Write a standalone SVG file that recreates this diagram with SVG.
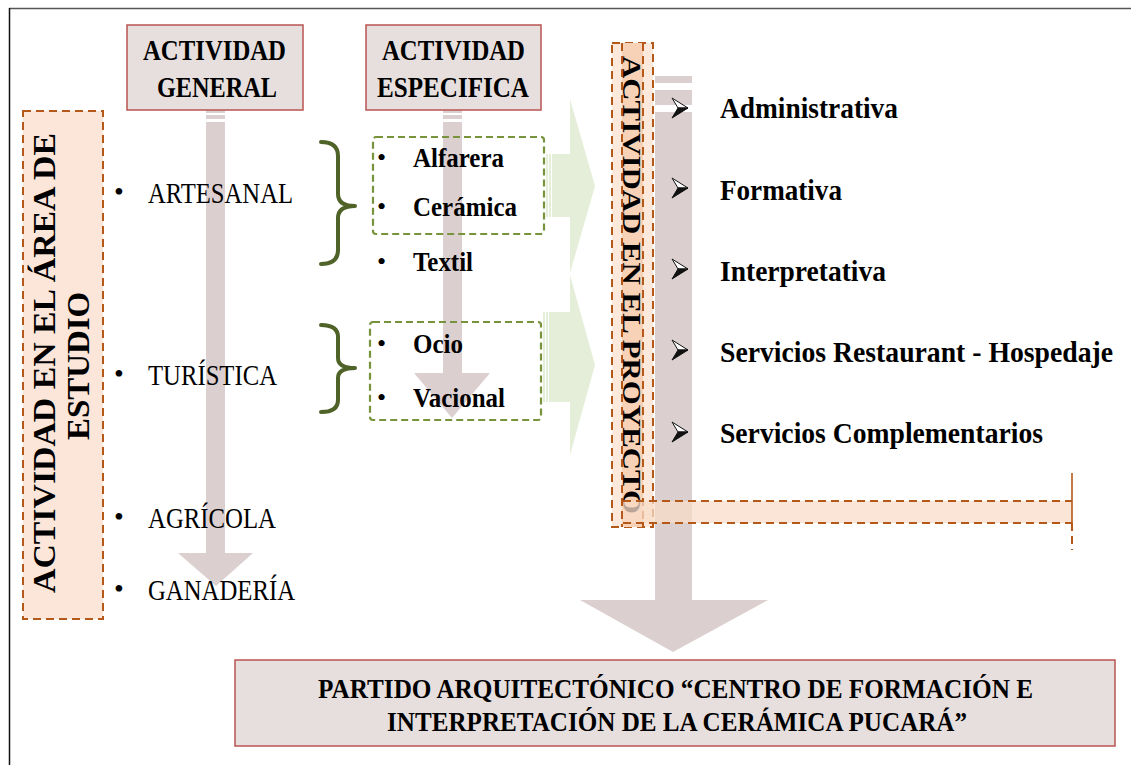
<svg xmlns="http://www.w3.org/2000/svg" width="1131" height="765" viewBox="0 0 1131 765">
<defs>
<style>
.hdr{fill:#e7dfde;stroke:#b85450;stroke-width:1.5}
.tb{font-family:"Liberation Serif","Times New Roman",serif;font-weight:bold;fill:#000}
.tr{font-family:"Liberation Serif","Times New Roman",serif;fill:#000}
.arr{fill:#dccfcf}
.garr{fill:#e5eed9}
.gbox{fill:none;stroke:#77933c;stroke-width:2.2;stroke-dasharray:7 4}
.obox{stroke:#b5591a;stroke-width:2;stroke-dasharray:8 5}
.brace{fill:none;stroke:#4f6228;stroke-width:4;stroke-linecap:round;stroke-linejoin:round}
</style>
<g id="chev">
<path d="M0,-10 L16,0 L6,0 Z" fill="#fff" stroke="#111" stroke-width="1"/>
<path d="M0,10 L16,0 L6,0 Z" fill="#111" stroke="#111" stroke-width="1"/>
</g>
</defs>
<rect width="1131" height="765" fill="#fff"/>
<line x1="9" y1="8.5" x2="1131" y2="8.5" stroke="#555" stroke-width="1.6"/>
<line x1="9.5" y1="8" x2="9.5" y2="765" stroke="#111" stroke-width="1.5"/>

<g id="connectors">
<rect class="arr" x="206" y="107" width="19" height="6"/>
<rect class="arr" x="206" y="115" width="19" height="4"/>
<polygon class="arr" points="206,122 225,122 225,553 253,553 216,586 178,553 206,553"/>
<rect class="arr" x="443" y="107" width="19" height="6"/>
<rect class="arr" x="443" y="115" width="19" height="4"/>
<polygon class="arr" points="443,122 462,122 462,373 490,373 452,418 414,373 443,373"/>
<rect class="arr" x="655" y="76" width="37" height="7"/>
<rect class="arr" x="655" y="90" width="37" height="15"/>
<polygon class="arr" points="655,112 692,112 692,600 768,600 673,652 580,600 655,600"/>
<rect class="garr" x="546" y="154" width="2" height="63"/>
<rect class="garr" x="549" y="154" width="2" height="63"/>
<polygon class="garr" points="552,154 570,154 570,99 595,186 570,273 570,217 552,217"/>
<rect class="garr" x="543" y="312" width="2" height="90"/>
<rect class="garr" x="546" y="312" width="2" height="90"/>
<polygon class="garr" points="549,312 570,312 570,275 595,365 570,455 570,402 549,402"/>
<path class="brace" d="M321,142 Q338,142 338,156 L338,194 Q338,206 355,206 Q338,206 338,218 L338,250 Q338,264 321,264"/>
<path class="brace" d="M321,325 Q338,325 338,337 L338,358 Q338,368 355,368 Q338,368 338,378 L338,400 Q338,412 321,412"/>
</g>

<g id="actividad-general">
<rect class="hdr" x="127" y="25" width="176" height="85"/>
<text class="tb" font-size="29" x="214.5" y="60" text-anchor="middle" textLength="143" lengthAdjust="spacingAndGlyphs">ACTIVIDAD</text>
<text class="tb" font-size="29" x="217" y="97" text-anchor="middle" textLength="120" lengthAdjust="spacingAndGlyphs">GENERAL</text>
</g>

<g id="actividad-especifica">
<rect class="hdr" x="366" y="25" width="175" height="85"/>
<text class="tb" font-size="29" x="453.5" y="60" text-anchor="middle" textLength="143" lengthAdjust="spacingAndGlyphs">ACTIVIDAD</text>
<text class="tb" font-size="29" x="453" y="97" text-anchor="middle" textLength="152" lengthAdjust="spacingAndGlyphs">ESPECIFICA</text>
</g>

<g id="area-estudio">
<rect x="23" y="111" width="80" height="508" fill="#fbe6d9" class="obox"/>
<text class="tb" font-size="31" transform="translate(55,363) rotate(-90)" text-anchor="middle" textLength="460" lengthAdjust="spacingAndGlyphs">ACTIVIDAD EN EL ÁREA DE</text>
<text class="tb" font-size="31" transform="translate(89,366) rotate(-90)" text-anchor="middle" textLength="148" lengthAdjust="spacingAndGlyphs">ESTUDIO</text>
</g>

<g id="lista-general">
<text class="tr" font-size="28" x="114" y="201">•</text>
<text class="tr" font-size="30" x="148" y="203" textLength="145" lengthAdjust="spacingAndGlyphs">ARTESANAL</text>
<text class="tr" font-size="28" x="114" y="383">•</text>
<text class="tr" font-size="30" x="148" y="385" textLength="129" lengthAdjust="spacingAndGlyphs">TURÍSTICA</text>
<text class="tr" font-size="28" x="114" y="526">•</text>
<text class="tr" font-size="30" x="148" y="528" textLength="128" lengthAdjust="spacingAndGlyphs">AGRÍCOLA</text>
<text class="tr" font-size="28" x="114" y="598">•</text>
<text class="tr" font-size="30" x="148" y="600" textLength="147" lengthAdjust="spacingAndGlyphs">GANADERÍA</text>
</g>

<g id="artesanal-especifica">
<rect class="gbox" x="373" y="137" width="171" height="97" rx="3"/>
<text class="tr" font-size="26" x="377" y="166">•</text>
<text class="tb" font-size="28" x="413" y="167" textLength="91" lengthAdjust="spacingAndGlyphs">Alfarera</text>
<text class="tr" font-size="26" x="377" y="215">•</text>
<text class="tb" font-size="28" x="413" y="216" textLength="104" lengthAdjust="spacingAndGlyphs">Cerámica</text>
<text class="tr" font-size="26" x="377" y="270">•</text>
<text class="tb" font-size="28" x="413" y="271" textLength="60" lengthAdjust="spacingAndGlyphs">Textil</text>
</g>

<g id="turistica-especifica">
<rect class="gbox" x="370" y="322" width="171" height="98" rx="3"/>
<text class="tr" font-size="26" x="377" y="352">•</text>
<text class="tb" font-size="28" x="413" y="353" textLength="50" lengthAdjust="spacingAndGlyphs">Ocio</text>
<text class="tr" font-size="26" x="377" y="406">•</text>
<text class="tb" font-size="28" x="413" y="407" textLength="92" lengthAdjust="spacingAndGlyphs">Vacional</text>
</g>

<g id="actividad-proyecto">
<rect x="612" y="43" width="41" height="484" fill="#fce9dc" class="obox"/>
<rect x="622" y="43" width="21" height="484" fill="#f8d2b6"/>
<line class="obox" x1="622" y1="43" x2="622" y2="527"/>
<line class="obox" x1="643" y1="43" x2="643" y2="527"/>
<text class="tb" font-size="26" transform="translate(623,285) rotate(90)" text-anchor="middle" textLength="458" lengthAdjust="spacingAndGlyphs">ACTIVIDAD EN EL PROYECTO</text>
<rect x="623" y="501" width="449" height="22" fill="#f8dcc8" opacity="0.75"/>
<line class="obox" x1="623" y1="501" x2="1072" y2="501"/>
<line class="obox" x1="623" y1="523" x2="1072" y2="523"/>
<line x1="1072" y1="473" x2="1072" y2="523" stroke="#b5591a" stroke-width="1.6"/>
<line class="obox" x1="1072" y1="523" x2="1072" y2="550"/>
</g>

<g id="lista-proyecto">
<use href="#chev" x="672" y="108"/>
<text class="tb" font-size="29" x="720" y="118" textLength="178" lengthAdjust="spacingAndGlyphs">Administrativa</text>
<use href="#chev" x="672" y="188"/>
<text class="tb" font-size="29" x="720" y="200" textLength="122" lengthAdjust="spacingAndGlyphs">Formativa</text>
<use href="#chev" x="672" y="269"/>
<text class="tb" font-size="29" x="720" y="281" textLength="166" lengthAdjust="spacingAndGlyphs">Interpretativa</text>
<use href="#chev" x="672" y="350"/>
<text class="tb" font-size="29" x="720" y="362" textLength="393" lengthAdjust="spacingAndGlyphs">Servicios Restaurant - Hospedaje</text>
<use href="#chev" x="672" y="432"/>
<text class="tb" font-size="29" x="720" y="443" textLength="323" lengthAdjust="spacingAndGlyphs">Servicios Complementarios</text>
</g>

<g id="partido">
<rect class="hdr" x="235" y="660" width="880" height="86"/>
<text class="tb" font-size="27" x="675.5" y="698" text-anchor="middle" textLength="715" lengthAdjust="spacingAndGlyphs">PARTIDO ARQUITECTÓNICO  “CENTRO DE FORMACIÓN E</text>
<text class="tb" font-size="27" x="677" y="731" text-anchor="middle" textLength="580" lengthAdjust="spacingAndGlyphs">INTERPRETACIÓN DE LA CERÁMICA PUCARÁ”</text>
</g>
</svg>
